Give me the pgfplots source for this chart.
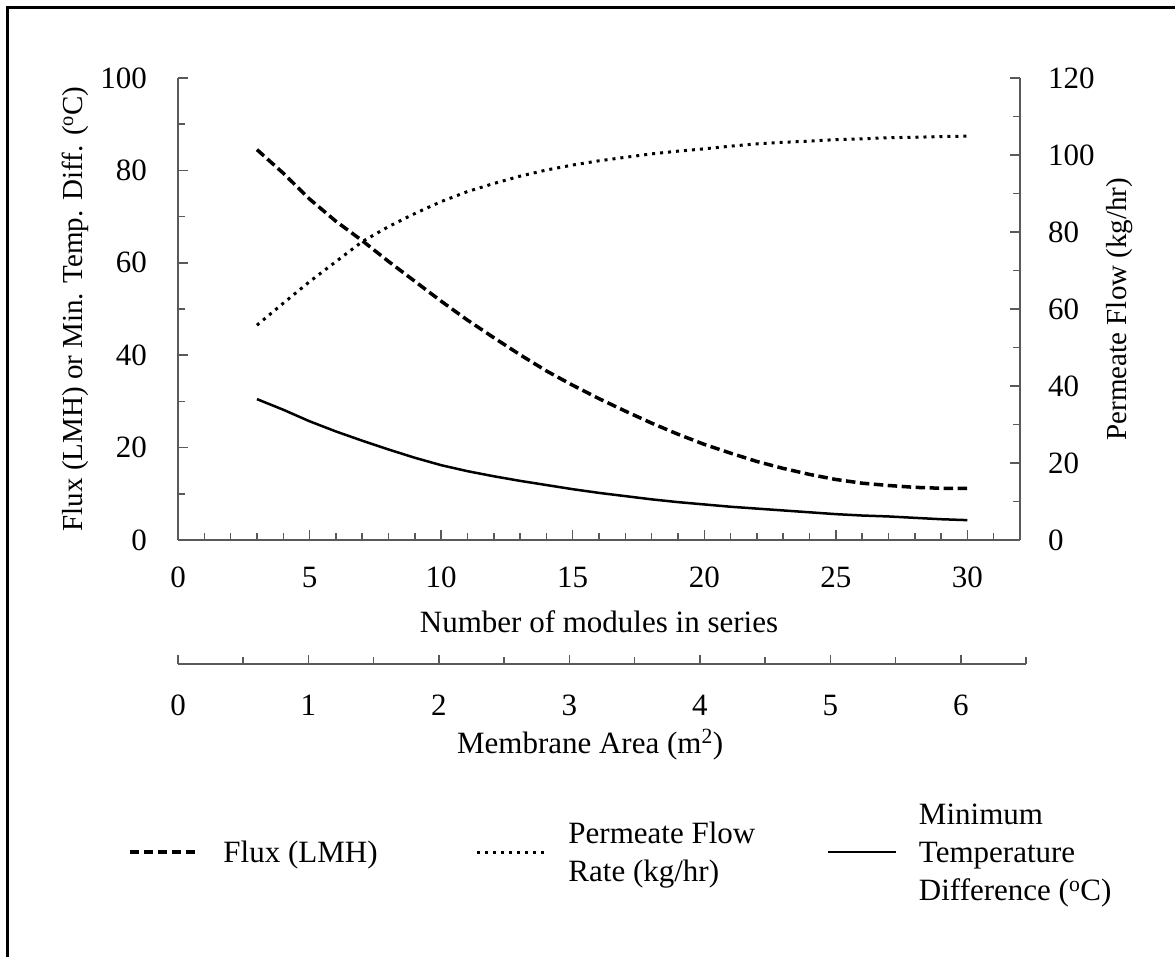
\documentclass[border=0pt]{standalone}
\usepackage{fontspec}
\setmainfont{Liberation Serif}
\usepackage{pgfplots}
\usepackage{pgfplotstable}
\pgfplotsset{compat=1.18}
\pgfplotstableread{
x flux perm mtd
3 84.5 55.8 30.5
4 79.4 61.5 28.2
5 73.8 67.1 25.7
6 69.0 72.3 23.5
7 64.8 77.5 21.5
8 60.3 81.4 19.6
9 56.0 84.8 17.8
10 51.7 87.9 16.2
11 47.6 90.5 14.9
12 43.8 92.6 13.8
13 40.1 94.5 12.8
14 36.6 96.1 11.9
15 33.5 97.4 11.0
16 30.6 98.5 10.2
17 27.9 99.4 9.5
18 25.3 100.3 8.8
19 22.9 101.0 8.2
20 20.7 101.6 7.7
21 18.8 102.3 7.2
22 17.0 102.9 6.8
23 15.5 103.3 6.4
24 14.2 103.6 6.0
25 13.1 104.0 5.6
26 12.3 104.2 5.3
27 11.8 104.5 5.1
28 11.4 104.6 4.8
29 11.2 104.8 4.5
30 11.2 104.9 4.3
}\datatable
\newcommand{\bigf}{\fontsize{31}{38}\selectfont}
\newcommand{\rotf}{\fontsize{29}{35}\selectfont}
\newcommand{\legtext}[1]{\raisebox{-10pt}[0pt][0pt]{\begin{tabular}{@{}l@{}}#1\end{tabular}}}
\pgfplotsset{
  fluxstyle/.style={black, line width=3.5pt, dash pattern=on 9.5pt off 4.5pt, line cap=butt},
  permstyle/.style={black, line width=3pt, dash pattern=on 3pt off 5pt, line cap=butt},
  mtdstyle/.style={black, line width=2.5pt},
  common/.style={
    scale only axis, width=842pt, height=462pt,
    xmin=0, xmax=32,
    tick align=inside,
    axis line style={black!65, line width=1.5pt},
    every tick/.style={black!65, line width=1.5pt},
    major tick length=10pt, minor tick length=7pt,
    tick label style={font=\bigf, black},
    /pgf/number format/assume math mode=true,
  },
}
\begin{document}
\begin{tikzpicture}
\useasboundingbox (0pt,0pt) rectangle (1175pt,-956pt);
\draw[line width=3pt] (7pt,-960pt) -- (7pt,-7pt) -- (1180pt,-7pt);

\begin{axis}[common,
  at={(178pt,-540pt)}, anchor=south west,
  axis x line*=bottom, axis y line*=left,
  ymin=0, ymax=100,
  ytick={0,20,...,100}, minor ytick={10,30,...,90},
  xtick={0,5,...,30}, minor xtick={1,...,31},
  yticklabel style={anchor=east, inner sep=0pt, xshift=-31pt},
  xticklabel style={anchor=north, inner sep=0pt, yshift=-27pt},
  every axis x label/.style={at={(axis description cs:0.5,0)}, anchor=base, yshift=-92pt, font=\bigf},
  every axis y label/.style={at={(axis description cs:-0.1223,0.5)}, rotate=90, anchor=center, font=\rotf},
  xlabel={Number of modules in series},
  ylabel={Flux (LMH) or Min. Temp. Diff. (\textsuperscript{o}C)},
]
\addplot[fluxstyle] table[x=x, y=flux] {\datatable};
\addplot[mtdstyle] table[x=x, y=mtd] {\datatable};
\end{axis}

\begin{axis}[common,
  at={(178pt,-540pt)}, anchor=south west,
  axis x line=none, axis y line*=right,
  ymin=0, ymax=120,
  ytick={0,20,...,120}, minor ytick={10,30,...,110},
  yticklabel style={anchor=west, inner sep=0pt, xshift=28pt},
  every axis y label/.style={at={(axis description cs:1.1188,0.5)}, rotate=90, anchor=center, font=\rotf},
  ylabel={Permeate Flow (kg/hr)},
  legend columns=3,
  legend cell align=left,
  legend style={at={(axis description cs:-0.0594,-0.6753)}, anchor=west,
    draw=none, fill=none, inner sep=0pt, outer sep=0pt,
    /tikz/column sep=0pt, /tikz/row sep=0pt,
    nodes={inner sep=0pt, outer sep=0pt, font=\bigf, anchor=west}},
  legend image code/.code={\draw[#1] (0pt,0pt) -- (68pt,0pt);},
]
\addlegendimage{fluxstyle}
\addlegendentry{\hspace{24pt}\makebox[252pt][l]{\legtext{Flux (LMH)}}}
\addplot[permstyle] table[x=x, y=perm] {\datatable};
\addlegendentry{\hspace{22pt}\makebox[258pt][l]{\legtext{Permeate Flow\\Rate (kg/hr)}}}
\addlegendimage{mtdstyle}
\addlegendentry{\hspace{22pt}\makebox[200pt][l]{\legtext{Minimum\\Temperature\\Difference (\textsuperscript{o}C)}}}
\end{axis}

\begin{axis}[
  scale only axis, width=848pt, height=10pt,
  at={(178pt,-664pt)}, anchor=south west,
  xmin=0, xmax=6.5, ymin=0, ymax=1,
  axis x line*=bottom, axis y line=none,
  tick align=inside,
  axis line style={black!65, line width=1.5pt},
  every tick/.style={black!65, line width=1.5pt},
  major tick length=9pt, minor tick length=7pt,
  xtick={0,...,6}, minor xtick={0.5,1.5,...,6.5},
  tick label style={font=\bigf, black},
  /pgf/number format/assume math mode=true,
  xticklabel style={anchor=north, inner sep=0pt, yshift=-31pt},
  every axis x label/.style={at={(axis description cs:0.486,0)}, anchor=base, yshift=-89pt, font=\bigf},
  xlabel={Membrane Area (m\textsuperscript{2})},
]
\end{axis}
\end{tikzpicture}
\end{document}
